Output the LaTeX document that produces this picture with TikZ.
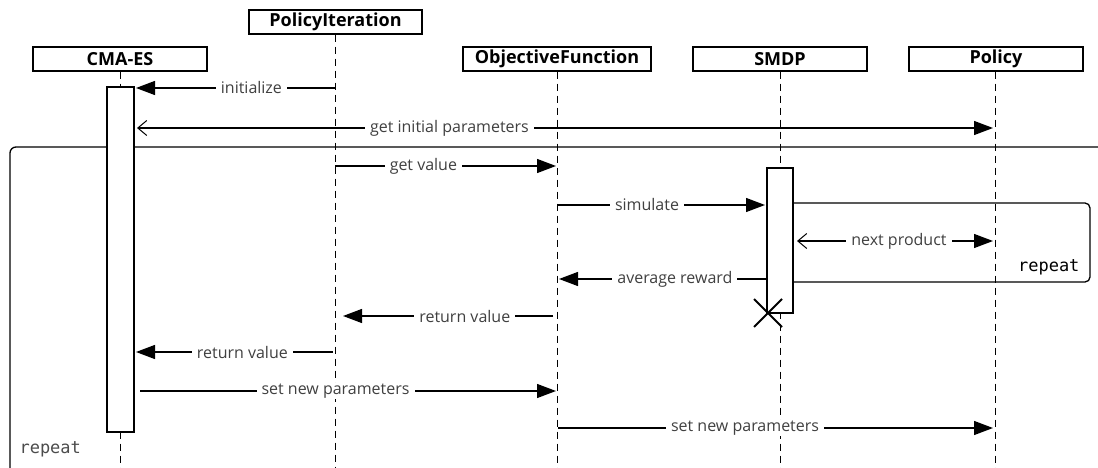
\documentclass[tikz,border=0pt]{standalone}
\usepackage{fontspec}
\setmainfont{Open Sans}
\newfontfamily\seqmono{DejaVu Sans Mono}
\usetikzlibrary{arrows.meta}
\begin{document}
\begin{tikzpicture}[x=1pt,y=-1pt,
  actor/.style={draw, line width=1.1pt, minimum height=24pt, inner sep=0pt,
    font=\bfseries\fontsize{18}{18}\selectfont},
  lifeline/.style={line width=1pt, dash pattern=on 7pt off 5pt},
  activation/.style={draw, fill=white, line width=1.1pt},
  msg/.style={line width=1.3pt, -{Triangle[length=19pt,width=14pt]}},
  duplex/.style={line width=1.3pt, {Straight Barb[length=9pt,width=15pt,line width=1pt]}-{Triangle[length=19pt,width=14pt]}},
  lbl/.style={fill=white, inner xsep=5pt, inner ysep=1pt, text=black!75,
    font=\fontsize{16}{16}\selectfont},
  frame/.style={line width=1.3pt, rounded corners=6pt},
  framelbl/.style={font=\seqmono\fontsize{17}{17}\selectfont}
]
\useasboundingbox (0,0) rectangle (1098,468);

% participants
\node[actor, minimum width=174pt] (cma)  at (120,59)   {CMA-ES};
\node[actor, minimum width=173pt] (pi)   at (335.5,22) {PolicyIteration};
\node[actor, minimum width=188pt] (of)   at (557,59)   {ObjectiveFunction};
\node[actor, minimum width=174pt] (smdp) at (780,59)   {SMDP};
\node[actor, minimum width=174pt] (pol)  at (996,59)   {Policy};

% lifeline ends
\coordinate (cmaEnd)  at (120,468);
\coordinate (piEnd)   at (335,468);
\coordinate (ofEnd)   at (557,468);
\coordinate (smdpEnd) at (780,468);
\coordinate (polEnd)  at (995,468);

\draw[lifeline] (cma.south)  -- (cmaEnd);
\draw[lifeline] (pi.south -| 335,0) -- (piEnd);
\draw[lifeline] (of.south)   -- (ofEnd);
\draw[lifeline] (smdp.south) -- (smdpEnd);
\draw[lifeline] (pol.south -| 995,0)  -- (polEnd);

% outer loop frame
\coordinate (outerR) at (1100,147);
\coordinate (outerB) at (10,470);
\draw[frame] (outerR) -- (10,147) -- (outerB);
\node[framelbl, text=black!70, anchor=west] (outerlbl) at (16,449) {repeat};

% activation bars
\node[activation, minimum width=27pt, minimum height=345pt, inner sep=0pt] (cmaAct) at (120.5,259.5) {};
\node[activation, minimum width=26pt, minimum height=145pt, inner sep=0pt] (smdpAct) at (780,240.5) {};

% inner loop frame
\coordinate (innerA) at (793,203);
\coordinate (innerB) at (793,282);
\draw[frame, rounded corners=5pt] (innerA) -- (1090,203) -- (1090,282) -- (innerB);
\node[framelbl, anchor=east] (innerlbl) at (1083,267) {repeat};

% message end points
\coordinate (m1a) at (335,88);   \coordinate (m1b) at (136,88);
\coordinate (m2a) at (137,128);  \coordinate (m2b) at (993,128);
\coordinate (m3a) at (335,166);  \coordinate (m3b) at (556,166);
\coordinate (m4a) at (558,205);  \coordinate (m4b) at (765,205);
\coordinate (m5a) at (797,241);  \coordinate (m5b) at (993,241);
\coordinate (m6a) at (766,279);  \coordinate (m6b) at (559,279);
\coordinate (m7a) at (553,316);  \coordinate (m7b) at (343,316);
\coordinate (m8a) at (333,352);  \coordinate (m8b) at (136,352);
\coordinate (m9a) at (140,391);  \coordinate (m9b) at (556,391);
\coordinate (m10a) at (558,428); \coordinate (m10b) at (993,428);

% messages
\draw[msg]    (m1a) -- (m1b) node[lbl, pos=0.42] (l1) {initialize};
\draw[duplex] (m2a) -- (m2b) node[lbl, pos=0.365] (l2) {get initial parameters};
\draw[msg]    (m3a) -- (m3b) node[lbl, pos=0.4] (l3) {get value};
\draw[msg]    (m4a) -- (m4b) node[lbl, pos=0.43] (l4) {simulate};
\draw[duplex] (m5a) -- (m5b) node[lbl, pos=0.52] (l5) {next product};
\draw[msg]    (m6a) -- (m6b) node[lbl, pos=0.44] (l6) {average reward};
\draw[msg]    (m7a) -- (m7b) node[lbl, pos=0.42] (l7) {return value};
\draw[msg]    (m8a) -- (m8b) node[lbl, pos=0.46] (l8) {return value};
\draw[msg]    (m9a) -- (m9b) node[lbl, pos=0.47] (l9) {set new parameters};
\draw[msg]    (m10a) -- (m10b) node[lbl, pos=0.43] (l10) {set new parameters};

% destruction of the SMDP
\coordinate (xA) at (754,299); \coordinate (xB) at (782,327);
\coordinate (xC) at (754,327); \coordinate (xD) at (782,299);
\draw[line width=2pt] (xA) -- (xB) (xC) -- (xD);
\end{tikzpicture}
\end{document}
